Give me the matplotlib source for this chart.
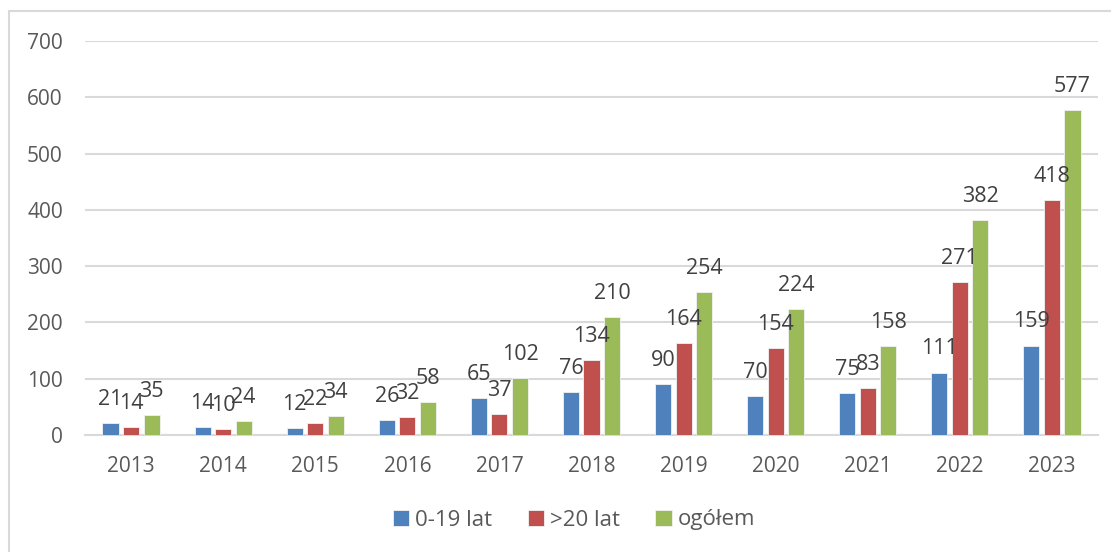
import numpy as np
import matplotlib
matplotlib.use('Agg')
from matplotlib import pyplot as plt
from matplotlib.patches import Rectangle

plt.rcParams['font.family'] = ['Open Sans', 'DejaVu Sans']

# dane
years = ['2013', '2014', '2015', '2016', '2017', '2018', '2019', '2020', '2021', '2022', '2023']
young = [21, 14, 12, 26, 65, 76, 90, 70, 75, 111, 159]
adult = [14, 10, 22, 32, 37, 134, 164, 154, 83, 271, 418]
total = [35, 24, 34, 58, 102, 210, 254, 224, 158, 382, 577]
series_names = ['0-19 lat', '>20 lat', 'ogółem']
colors = ['#4F81BD', '#C0504D', '#9BBB59']

W, H = 1111, 552
fig = plt.figure(figsize=(W / 100, H / 100), dpi=100)
ax = fig.add_axes([85 / W, 1 - 435 / H, (1098 - 85) / W, (435 - 41) / H])

# ramka wykresu
fig.patches.append(Rectangle((9 / W, -0.1), 1.2, 1 - 11 / H + 0.1, transform=fig.transFigure,
                             fill=False, edgecolor='#d9d9d9', linewidth=1.5))

x = np.arange(len(years))
width = 0.174
step = 0.223
for i, (vals, name, c) in enumerate(zip([young, adult, total], series_names, colors)):
    pos = x + (i - 1) * step
    ax.bar(pos, vals, width, color=c, label=name, edgecolor='#f2f2f2', linewidth=0.6, zorder=3)
    for xp, v in zip(pos, vals):
        ax.annotate(str(v), (xp, v), xytext=(0, 13), textcoords='offset points',
                    ha='center', va='baseline', fontsize=15.5, color='#404040', zorder=4)

ax.set_xlim(-0.5, len(years) - 0.5)
ax.set_ylim(0, 700)
ax.set_yticks(range(0, 701, 100))
ax.set_xticks(x)
ax.set_xticklabels(years)
ax.tick_params(axis='both', length=0, labelsize=15, labelcolor='#595959')
ax.tick_params(axis='y', pad=16)
ax.tick_params(axis='x', pad=15)
ax.grid(axis='y', color='#d9d9d9', linewidth=1.5, zorder=0)
ax.set_axisbelow(True)
for s in ['top', 'right', 'left']:
    ax.spines[s].set_visible(False)
ax.spines['bottom'].set_color('#d9d9d9')
ax.spines['bottom'].set_linewidth(1.5)

fig.legend(loc='center', bbox_to_anchor=(574 / W, 1 - 520 / H), ncol=3, frameon=False,
           fontsize=16, labelcolor='#595959', handlelength=0.75, handleheight=0.75,
           handletextpad=0.25, columnspacing=1.6)

plt.savefig('out.png', dpi=100)
